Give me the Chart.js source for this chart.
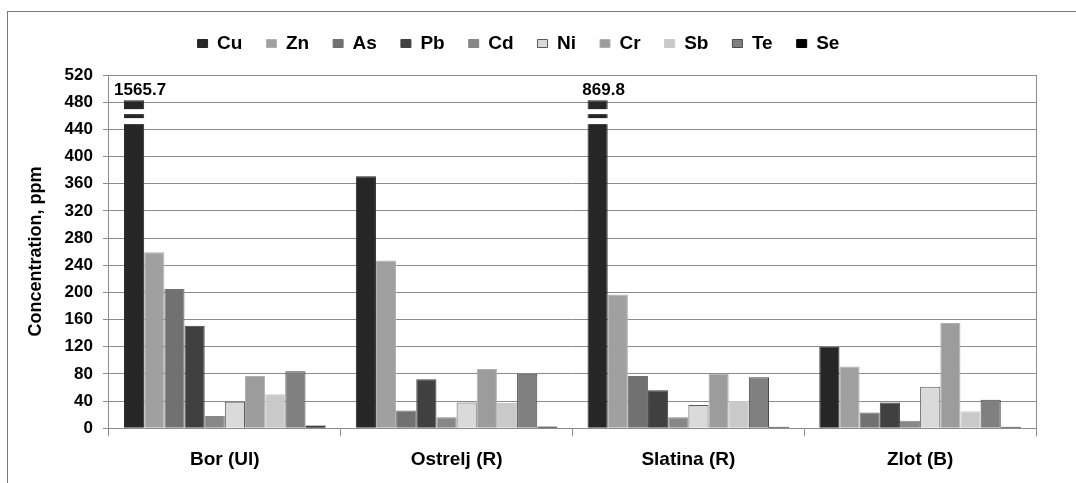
<!DOCTYPE html>
<html>
<head>
<meta charset="utf-8">
<script src="https://cdn.jsdelivr.net/npm/chart.js@4"></script>
<style>
  body { margin: 0; background: #fff; }
  #wrap { position: relative; width: 1076px; height: 483px; }
</style>
</head>
<body>
<div id="wrap"><canvas id="c" width="1076" height="483"></canvas></div>
<script>
const sites = ['Bor (Ul)', 'Ostrelj (R)', 'Slatina (R)', 'Zlot (B)'];
const elements = ['Cu', 'Zn', 'As', 'Pb', 'Cd', 'Ni', 'Cr', 'Sb', 'Te', 'Se'];

// concentrations (ppm), one array per element, in site order
const Cu = [1565.7, 371, 869.8, 120];
const Zn = [259, 247, 197, 91];
const As = [205, 26, 77, 23];
const Pb = [151, 72, 56, 38];
const Cd = [18, 16, 16, 11];
const Ni = [39, 38, 34, 61];
const Cr = [77, 87, 80, 155];
const Sb = [50, 37, 40, 25];
const Te = [84, 80, 75, 42];
const Se = [4, 2.5, 2, 2];

const yTicks = [0, 40, 80, 120, 160, 200, 240, 280, 320, 360, 400, 440, 480, 520];
const breakAt = 483; // bars above this are drawn broken

const values = [Cu, Zn, As, Pb, Cd, Ni, Cr, Sb, Te, Se];
const fills   = ['#262626', '#a0a0a0', '#717171', '#404040', '#878787', '#dadada', '#9c9c9c', '#c9c9c9', '#808080', '#000000'];
const borders = ['#262626', '#b0b0b0', '#717171', '#404040', '#878787', '#5a5a5a', '#b0b0b0', '#c9c9c9', '#4a4a4a', '#000000'];

const FONT = '"Liberation Sans", Arial, sans-serif';

const frame = {
  id: 'frame',
  beforeInit(chart) {
    // leave room between legend and plot
    const fit = chart.legend.fit;
    chart.legend.fit = function () {
      fit.call(this);
      this.height += 12;
    };
  },
  afterLayout(chart) {
    // legend sits a little left of centre in the original
    chart.legend.left -= 12;
    chart.legend.right -= 12;
  },
  beforeDraw(chart) {
    const ctx = chart.ctx;
    ctx.save();
    ctx.strokeStyle = '#7a7a7a';
    ctx.lineWidth = 1;
    ctx.strokeRect(7.5, 11.5, 1200, 600);
    ctx.restore();
  }
};

const breaks = {
  id: 'breaks',
  afterDatasetsDraw(chart) {
    const ctx = chart.ctx;
    ctx.save();
    chart.data.datasets.forEach((ds, di) => {
      const meta = chart.getDatasetMeta(di);
      ds.raw.forEach((v, i) => {
        if (v <= breakAt) return;
        const bar = meta.data[i];
        const left = bar.x - bar.width / 2 - 1;
        const w = bar.width + 2;
        ctx.fillStyle = '#ffffff';
        ctx.fillRect(left, bar.y + 9, w, 5);
        ctx.fillRect(left, bar.y + 18, w, 6);
        ctx.fillStyle = '#000';
        ctx.font = 'bold 17px ' + FONT;
        ctx.textAlign = 'center';
        ctx.textBaseline = 'middle';
        ctx.fillText(String(v), bar.x + 6, bar.y - 10);
      });
    });
    ctx.restore();
  }
};

new Chart(document.getElementById('c'), {
  type: 'bar',
  data: {
    labels: sites,
    datasets: elements.map((el, k) => ({
      label: el,
      raw: values[k],
      data: values[k].map(v => Math.min(v, breakAt)),
      backgroundColor: fills[k],
      borderColor: borders[k],
      borderWidth: 1,
      categoryPercentage: 0.87,
      barPercentage: 1.0
    }))
  },
  options: {
    responsive: false,
    animation: false,
    layout: { padding: { left: 25, right: 40, top: 10, bottom: 0 } },
    plugins: {
      tooltip: { enabled: false },
      legend: {
        position: 'top',
        labels: {
          boxWidth: 10,
          boxHeight: 8,
          padding: 24,
          color: '#000',
          font: { family: FONT, size: 19, weight: 'bold' }
        }
      }
    },
    scales: {
      x: {
        grid: { offset: true, drawOnChartArea: false, drawTicks: true, tickLength: 8, color: '#8c8c8c' },
        border: { color: '#8c8c8c' },
        ticks: {
          color: '#000',
          padding: 12,
          font: { family: FONT, size: 19, weight: 'bold' }
        }
      },
      y: {
        min: 0,
        max: 520,
        afterBuildTicks(axis) { axis.ticks = yTicks.map(v => ({ value: v })); },
        grid: { color: '#8c8c8c', drawTicks: true, tickLength: 6 },
        border: { color: '#8c8c8c' },
        ticks: {
          color: '#000',
          padding: 10,
          font: { family: FONT, size: 17, weight: 'bold' }
        },
        title: {
          display: true,
          text: 'Concentration, ppm',
          color: '#000',
          padding: { top: 0, bottom: 8 },
          font: { family: FONT, size: 18, weight: 'bold' }
        }
      }
    }
  },
  plugins: [frame, breaks, {
    id: 'rightEdge',
    afterDraw(chart) {
      const a = chart.chartArea, ctx = chart.ctx;
      ctx.save();
      ctx.strokeStyle = '#8c8c8c';
      ctx.beginPath();
      ctx.moveTo(Math.round(a.right) + 0.5, a.top);
      ctx.lineTo(Math.round(a.right) + 0.5, a.bottom + 8);
      ctx.stroke();
      ctx.restore();
    }
  }]
});
</script>
</body>
</html>
